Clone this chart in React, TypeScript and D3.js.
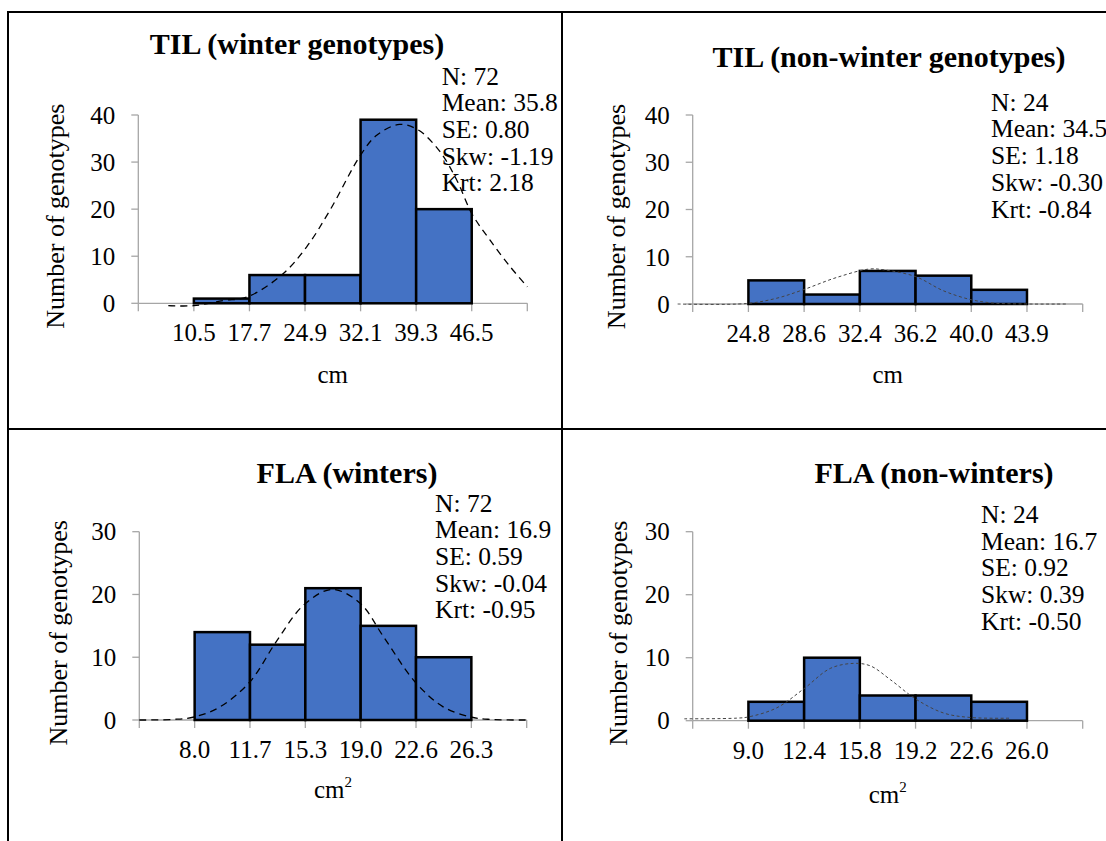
import React from "react";
import * as d3 from "d3";

// bins are drawn on an index axis: 0..7 edges, labels sit on edges 1..6
const tilWinterLabels = ["10.5", "17.7", "24.9", "32.1", "39.3", "46.5"];
const tilWinterCounts = [1, 6, 6, 39, 20];
const tilWinterCurveX = [0.54, 1.0, 1.53, 1.95, 2.58, 3.03, 3.45, 4.0, 4.29, 4.7, 5.04, 5.43, 5.73, 6.0, 6.33, 6.69, 7.0];
const tilWinterCurveY = [-0.5, -0.5, 0.6, 1.3, 6.0, 12, 19.8, 31.5, 35.7, 38, 36.8, 32.2, 26.2, 19.1, 13.4, 7.8, 3.5];
const tilWinterStats = ["N: 72", "Mean: 35.8", "SE: 0.80", "Skw: -1.19", "Krt: 2.18"];

const tilNonLabels = ["24.8", "28.6", "32.4", "36.2", "40.0", "43.9"];
const tilNonCounts = [5, 2, 7, 6, 3];
const tilNonCurveX = [-0.27, 0.96, 1.5, 1.98, 2.58, 3.17, 3.45, 4.0, 4.5, 5.0, 5.4, 6.0, 6.7];
const tilNonCurveY = [0, 0.1, 1.2, 3.0, 5.6, 7.4, 7.2, 5.8, 2.8, 0.9, 0.2, 0, 0];
const tilNonStats = ["N: 24", "Mean: 34.5", "SE: 1.18", "Skw: -0.30", "Krt: -0.84"];

const flaWinterLabels = ["8.0", "11.7", "15.3", "19.0", "22.6", "26.3"];
const flaWinterCounts = [14, 12, 21, 15, 10];
const flaWinterCurveX = [0, 0.62, 1.0, 1.46, 2.0, 2.49, 2.97, 3.48, 3.99, 4.41, 4.98, 5.49, 5.98, 6.33, 6.98];
const flaWinterCurveY = [0, 0.1, 0.5, 2.1, 6.1, 12.7, 18.3, 20.8, 18.6, 13.3, 6.1, 2.1, 0.5, 0.1, 0];
const flaWinterStats = ["N: 72", "Mean: 16.9", "SE: 0.59", "Skw: -0.04", "Krt: -0.95"];

const flaNonLabels = ["9.0", "12.4", "15.8", "19.2", "22.6", "26.0"];
const flaNonCounts = [3, 10, 4, 4, 3];
const flaNonCurveX = [-0.15, 0.78, 1.0, 1.5, 2.0, 2.47, 2.89, 3.19, 3.55, 4.01, 4.51, 5.0, 5.7];
const flaNonCurveY = [0.3, 0.4, 0.6, 2.0, 5.1, 8.3, 9.1, 8.7, 6.5, 3.4, 1.2, 0.5, 0.4];
const flaNonStats = ["N: 24", "Mean: 16.7", "SE: 0.92", "Skw: 0.39", "Krt: -0.50"];

const tilTicks = [0, 10, 20, 30, 40];
const flaTicks = [0, 10, 20, 30];

const FONT = "'Liberation Serif', 'Times New Roman', serif";
const BAR = "#4472C4";
const AXIS = "#a6a6a6";

type PanelProps = {
  title: string;
  labels: string[];
  counts: number[];
  curveX: number[];
  curveY: number[];
  stats: string[];
  yTicks: number[];
  unitSq?: boolean;
  dotted?: boolean;
  box: { left: number; right: number; bottom: number; top: number };
  titlePos: [number, number];
  statsPos: [number, number];
  yTitleX: number;
  unitY: number;
};

function Panel(p: PanelProps) {
  const { left, right, bottom, top } = p.box;
  const x = d3.scaleLinear().domain([0, 7]).range([left, right]);
  const y = d3
    .scaleLinear()
    .domain([0, d3.max(p.yTicks) as number])
    .range([bottom, top]);

  const line = d3
    .line<[number, number]>()
    .x((d) => x(d[0]))
    .y((d) => y(d[1]))
    .curve(d3.curveCatmullRom.alpha(0.5));
  const pts = p.curveX.map((v, i) => [v, p.curveY[i]] as [number, number]);

  const midX = (left + right) / 2;
  const midY = (top + bottom) / 2 + 7;

  return (
    <g fontFamily={FONT} fill="#000">
      <text x={p.titlePos[0]} y={p.titlePos[1]} textAnchor="middle" fontSize={30} fontWeight="bold">
        {p.title}
      </text>

      {/* axes */}
      <line x1={left} x2={left} y1={bottom} y2={top} stroke={AXIS} strokeWidth={1.3} />
      <line x1={left} x2={right} y1={bottom} y2={bottom} stroke={AXIS} strokeWidth={1.3} />
      {p.yTicks.map((t) => (
        <g key={"y" + t}>
          <line x1={left - 7} x2={left} y1={y(t)} y2={y(t)} stroke={AXIS} strokeWidth={1.3} />
          <text x={left - 23} y={y(t)} dy="0.35em" textAnchor="end" fontSize={25}>
            {t}
          </text>
        </g>
      ))}
      {d3.range(8).map((k) => (
        <line key={"x" + k} x1={x(k)} x2={x(k)} y1={bottom} y2={bottom + 8} stroke={AXIS} strokeWidth={1.3} />
      ))}
      {p.labels.map((lab, i) => (
        <text key={lab + i} x={x(i + 1)} y={bottom + 38} textAnchor="middle" fontSize={25}>
          {lab}
        </text>
      ))}

      {/* bars */}
      {p.counts.map((c, i) => (
        <rect
          key={"b" + i}
          x={x(i + 1)}
          y={y(c)}
          width={x(i + 2) - x(i + 1)}
          height={y(0) - y(c)}
          fill={BAR}
          stroke="#000"
          strokeWidth={2.5}
        />
      ))}

      {/* fitted normal curve */}
      <path
        d={line(pts) || ""}
        fill="none"
        stroke={p.dotted ? "#444" : "#000"}
        strokeWidth={p.dotted ? 1 : 1.3}
        strokeDasharray={p.dotted ? "3 2.5" : "7 5"}
      />

      <text
        transform={`translate(${p.yTitleX},${midY}) rotate(-90)`}
        textAnchor="middle"
        fontSize={26}
      >
        Number of genotypes
      </text>
      <text x={midX} y={p.unitY} textAnchor="middle" fontSize={25}>
        cm
        {p.unitSq && (
          <tspan fontSize={15} dy={-11}>
            2
          </tspan>
        )}
      </text>

      {p.stats.map((s, i) => (
        <text key={s} x={p.statsPos[0]} y={p.statsPos[1] + i * 26.7} fontSize={25.5}>
          {s}
        </text>
      ))}
    </g>
  );
}

export default function App() {
  return (
    <svg
      width={1106}
      height={841}
      style={{ position: "absolute", left: 0, top: 0, background: "#fff" }}
    >
      <rect width={1106} height={841} fill="#fff" />
      <Panel
        title="TIL (winter genotypes)"
        labels={tilWinterLabels}
        counts={tilWinterCounts}
        curveX={tilWinterCurveX}
        curveY={tilWinterCurveY}
        stats={tilWinterStats}
        yTicks={tilTicks}
        box={{ left: 138.3, right: 527.3, bottom: 303.3, top: 115 }}
        titlePos={[297, 54]}
        statsPos={[441.7, 84.5]}
        yTitleX={64}
        unitY={383}
      />
      <Panel
        title="TIL (non-winter genotypes)"
        labels={tilNonLabels}
        counts={tilNonCounts}
        curveX={tilNonCurveX}
        curveY={tilNonCurveY}
        stats={tilNonStats}
        yTicks={tilTicks}
        dotted
        box={{ left: 692.7, right: 1082.7, bottom: 304, top: 115 }}
        titlePos={[889, 66.5]}
        statsPos={[991, 110.7]}
        yTitleX={625}
        unitY={383}
      />
      <Panel
        title="FLA (winters)"
        labels={flaWinterLabels}
        counts={flaWinterCounts}
        curveX={flaWinterCurveX}
        curveY={flaWinterCurveY}
        stats={flaWinterStats}
        yTicks={flaTicks}
        unitSq
        box={{ left: 139.3, right: 526.7, bottom: 720, top: 531.7 }}
        titlePos={[347, 483]}
        statsPos={[435, 511.5]}
        yTitleX={67}
        unitY={798}
      />
      <Panel
        title="FLA (non-winters)"
        labels={flaNonLabels}
        counts={flaNonCounts}
        curveX={flaNonCurveX}
        curveY={flaNonCurveY}
        stats={flaNonStats}
        yTicks={flaTicks}
        unitSq
        dotted
        box={{ left: 692.7, right: 1082.7, bottom: 720.7, top: 531.7 }}
        titlePos={[934, 483.3]}
        statsPos={[981, 523]}
        yTitleX={627}
        unitY={803}
      />

      {/* panel frame */}
      <g stroke="#000" strokeWidth={2}>
        <line x1={7} x2={1106} y1={12} y2={12} />
        <line x1={7} x2={1106} y1={429} y2={429} />
        <line x1={8} x2={8} y1={11} y2={841} />
        <line x1={562} x2={562} y1={11} y2={841} />
      </g>
    </svg>
  );
}
